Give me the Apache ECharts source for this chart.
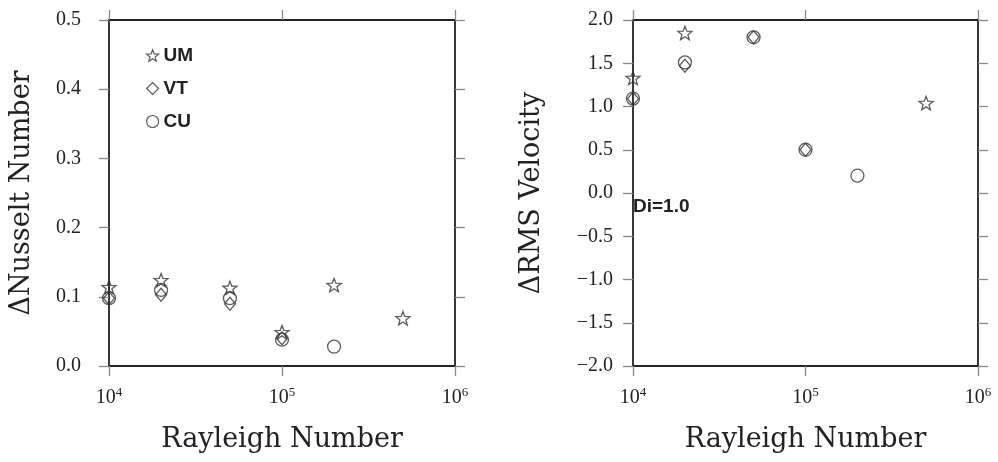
<!DOCTYPE html>
<html>
<head>
<meta charset="utf-8">
<script src="https://cdn.jsdelivr.net/npm/echarts@6/dist/echarts.min.js"></script>
<style>html,body{margin:0;padding:0;background:#fff}#c{width:998px;height:462px}</style>
</head>
<body>
<div id="c"></div>
<script>
// Rayleigh numbers
const raUM = [1e4, 2e4, 5e4, 1e5, 2e5, 5e5];
const raVT = [1e4, 2e4, 5e4, 1e5];
const raCU = [1e4, 2e4, 5e4, 1e5, 2e5];
// Delta Nusselt number (left panel)
const nuUM = [0.114, 0.124, 0.113, 0.049, 0.117, 0.069];
const nuVT = [0.098, 0.103, 0.090, 0.040];
const nuCU = [0.098, 0.110, 0.098, 0.038, 0.028];
// Delta RMS velocity (right panel)
const raUM2 = [1e4, 2e4, 5e5];
const vUM = [1.33, 1.85, 1.04];
const raVT2 = [1e4, 2e4, 5e4, 1e5];
const vVT = [1.09, 1.47, 1.80, 0.50];
const raCU2 = [1e4, 2e4, 5e4, 1e5, 2e5];
const vCU = [1.09, 1.51, 1.80, 0.50, 0.20];
const seriesNames = ['UM', 'VT', 'CU'];
const yTicksLeft = [0, 0.5, 0.1];
const yTicksRight = [-2, 2, 0.5];
const xRange = [1e4, 1e6];

const STAR = 'path://M50 0 L62.34 33.01 L97.55 34.55 L69.97 56.49 L79.39 90.45 L50 71 L20.61 90.45 L30.03 56.49 L2.45 34.55 L37.66 33.01 Z';
const DIAMOND = 'path://M50 0 L100 50 L50 100 L0 50 Z';
const symbols = {UM: STAR, VT: DIAMOND, CU: 'circle'};
const sizes = {UM: 14, VT: [11, 13], CU: 13};

const serif = 'Liberation Serif';
const nameFont = 'DejaVu Serif';
const ink = '#222';

function pairs(xs, ys) { return xs.map((x, i) => [x, ys[i]]); }
function minus(v, d) { const s = Math.abs(v).toFixed(d); return (v < -1e-9 ? '\u2212' : '') + s; }

const axisLine = {show: true, onZero: false, lineStyle: {color: ink, width: 1.8}};
const tick = {show: true, inside: false, length: 10, lineStyle: {color: '#888', width: 1.3}};

function xAxes(gi) {
  return [{
    type: 'log', logBase: 10, min: xRange[0], max: xRange[1], gridIndex: gi, position: 'bottom',
    axisLine: axisLine, axisTick: tick, splitLine: {show: false}, minorTick: {show: false},
    axisLabel: {
      margin: 20,
      formatter: v => '{b|10}{s|' + Math.round(Math.log10(v)) + '}',
      rich: {
        b: {fontFamily: serif, fontSize: 20, color: ink, verticalAlign: 'bottom', lineHeight: 22},
        s: {fontFamily: serif, fontSize: 13, color: ink, verticalAlign: 'bottom', lineHeight: 22, padding: [0, 0, 9, 0]}
      }
    },
    name: 'Rayleigh Number', nameLocation: 'middle', nameGap: 60,
    nameTextStyle: {fontFamily: nameFont, fontSize: 27, color: ink}
  }, {
    type: 'log', logBase: 10, min: xRange[0], max: xRange[1], gridIndex: gi, position: 'top',
    axisLine: axisLine, axisTick: tick, axisLabel: {show: false}, splitLine: {show: false}
  }];
}
function yAxes(gi, t, dec, name, gap, margin) {
  return [{
    type: 'value', min: t[0], max: t[1], interval: t[2], gridIndex: gi, position: 'left',
    axisLine: axisLine, axisTick: tick, splitLine: {show: false},
    axisLabel: {margin: margin, fontFamily: serif, fontSize: 20, color: ink, formatter: v => minus(v, dec)},
    name: name, nameLocation: 'middle', nameGap: gap, nameRotate: 90,
    nameTextStyle: {fontFamily: nameFont, fontSize: 27, color: ink}
  }, {
    type: 'value', min: t[0], max: t[1], interval: t[2], gridIndex: gi, position: 'right',
    axisLine: axisLine, axisTick: tick, axisLabel: {show: false}, splitLine: {show: false}
  }];
}

function sc(name, xi, yi, data) {
  return {
    type: 'scatter', name: name, xAxisIndex: xi, yAxisIndex: yi, data: data,
    symbol: symbols[name], symbolSize: sizes[name], symbolKeepAspect: true, clip: true,
    itemStyle: {color: 'rgba(255,255,255,0)', borderColor: '#333', borderWidth: 1.3},
    emphasis: {disabled: true}
  };
}

const chart = echarts.init(document.getElementById('c'), null, {renderer: 'canvas'});
chart.setOption({
  animation: false,
  backgroundColor: '#fff',
  grid: [
    {left: 109, top: 20, width: 346, height: 346},
    {left: 633, top: 20, width: 345, height: 346}
  ],
  xAxis: [...xAxes(0), ...xAxes(1)],
  yAxis: [...yAxes(0, yTicksLeft, 1, '\u0394Nusselt Number', 74, 28), ...yAxes(1, yTicksRight, 1, '\u0394RMS Velocity', 88, 20)],
  legend: {
    orient: 'vertical', left: 141, top: 41, itemGap: 14, itemWidth: 12, itemHeight: 12,
    selectedMode: false,
    textStyle: {fontFamily: 'Liberation Sans', fontWeight: 'bold', fontSize: 19, color: ink},
    data: seriesNames.map(n => ({name: n, icon: symbols[n],
      itemStyle: {color: 'rgba(255,255,255,0)', borderColor: '#333', borderWidth: 1.2}}))
  },
  graphic: [{
    type: 'text', left: 633, top: 197,
    style: {text: 'Di=1.0', fontFamily: 'Liberation Sans', fontWeight: 'bold', fontSize: 19, fill: ink}
  }],
  series: [
    sc('UM', 0, 0, pairs(raUM, nuUM)),
    sc('VT', 0, 0, pairs(raVT, nuVT)),
    sc('CU', 0, 0, pairs(raCU, nuCU)),
    sc('UM', 2, 2, pairs(raUM2, vUM)),
    sc('VT', 2, 2, pairs(raVT2, vVT)),
    sc('CU', 2, 2, pairs(raCU2, vCU))
  ]
});
</script>
</body>
</html>
